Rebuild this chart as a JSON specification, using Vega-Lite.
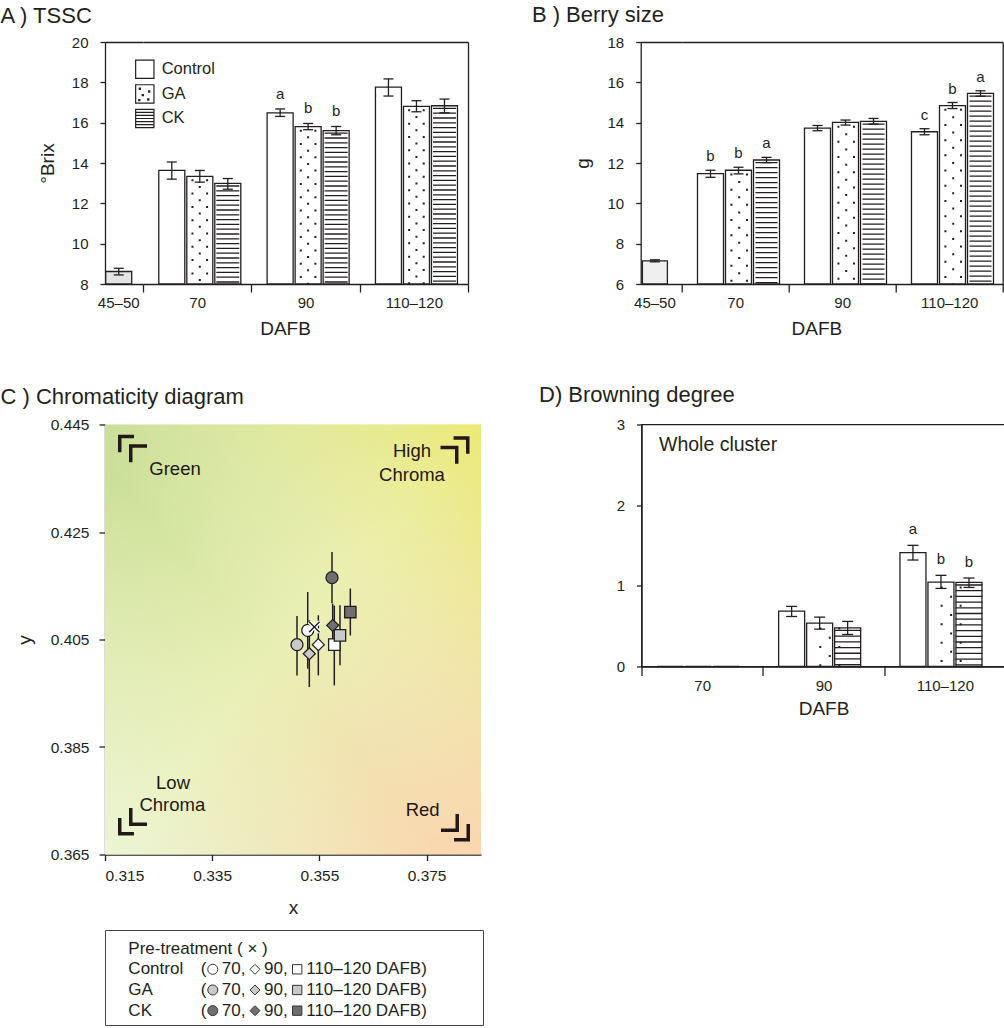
{
  "$schema": "https://vega.github.io/schema/vega-lite/v6.json",
  "background": "#ffffff",
  "padding": {"left": 0, "top": 3, "right": 0, "bottom": 0},
  "config": {
    "font": "Liberation Sans",
    "view": {"stroke": null},
    "axis": {
      "labelFont": "Liberation Sans", "labelFontSize": 15, "labelColor": "#231f20",
      "titleFont": "Liberation Sans", "titleFontSize": 19, "titleFontWeight": "normal", "titleColor": "#231f20",
      "domainColor": "#231f20", "domainWidth": 1.3, "tickColor": "#231f20", "tickWidth": 1.3,
      "grid": false, "labelOverlap": false
    },
    "title": {"font": "Liberation Sans", "fontSize": 22, "fontWeight": "normal", "color": "#231f20", "anchor": "start", "frame": "group"},
    "text": {"font": "Liberation Sans"}
  },
  "datasets": {
    "tssc": [
      {"period": "45–50", "treatment": "Pre-treatment", "mean": 8.62, "lo": 8.45, "hi": 8.78},
      {"period": "70", "treatment": "Control", "mean": 13.63, "lo": 13.2, "hi": 14.05},
      {"period": "70", "treatment": "GA", "mean": 13.34, "lo": 13.05, "hi": 13.63},
      {"period": "70", "treatment": "CK", "mean": 12.99, "lo": 12.7, "hi": 13.23},
      {"period": "90", "treatment": "Control", "mean": 16.49, "lo": 16.31, "hi": 16.68, "sig": "a"},
      {"period": "90", "treatment": "GA", "mean": 15.8, "lo": 15.65, "hi": 15.96, "sig": "b"},
      {"period": "90", "treatment": "CK", "mean": 15.61, "lo": 15.4, "hi": 15.81, "sig": "b"},
      {"period": "110–120", "treatment": "Control", "mean": 17.76, "lo": 17.32, "hi": 18.17},
      {"period": "110–120", "treatment": "GA", "mean": 16.81, "lo": 16.54, "hi": 17.09},
      {"period": "110–120", "treatment": "CK", "mean": 16.84, "lo": 16.49, "hi": 17.17}
    ],
    "berry": [
      {"period": "45–50", "treatment": "Pre-treatment", "mean": 7.15, "lo": 7.1, "hi": 7.2},
      {"period": "70", "treatment": "Control", "mean": 11.47, "lo": 11.29, "hi": 11.64, "sig": "b"},
      {"period": "70", "treatment": "GA", "mean": 11.64, "lo": 11.46, "hi": 11.79, "sig": "b"},
      {"period": "70", "treatment": "CK", "mean": 12.15, "lo": 12.02, "hi": 12.28, "sig": "a"},
      {"period": "90", "treatment": "Control", "mean": 13.73, "lo": 13.6, "hi": 13.86},
      {"period": "90", "treatment": "GA", "mean": 14.01, "lo": 13.88, "hi": 14.13},
      {"period": "90", "treatment": "CK", "mean": 14.06, "lo": 13.93, "hi": 14.21},
      {"period": "110–120", "treatment": "Control", "mean": 13.55, "lo": 13.4, "hi": 13.7, "sig": "c"},
      {"period": "110–120", "treatment": "GA", "mean": 14.85, "lo": 14.7, "hi": 15.0, "sig": "b"},
      {"period": "110–120", "treatment": "CK", "mean": 15.45, "lo": 15.31, "hi": 15.58, "sig": "a"}
    ],
    "brown": [
      {"period": "70", "treatment": "Control", "mean": 0, "lo": 0, "hi": 0},
      {"period": "70", "treatment": "GA", "mean": 0, "lo": 0, "hi": 0},
      {"period": "70", "treatment": "CK", "mean": 0, "lo": 0, "hi": 0},
      {"period": "90", "treatment": "Control", "mean": 0.687, "lo": 0.62, "hi": 0.745},
      {"period": "90", "treatment": "GA", "mean": 0.538, "lo": 0.463, "hi": 0.612},
      {"period": "90", "treatment": "CK", "mean": 0.48, "lo": 0.397, "hi": 0.559},
      {"period": "110–120", "treatment": "Control", "mean": 1.411, "lo": 1.32, "hi": 1.502, "sig": "a"},
      {"period": "110–120", "treatment": "GA", "mean": 1.047, "lo": 0.968, "hi": 1.13, "sig": "b"},
      {"period": "110–120", "treatment": "CK", "mean": 1.043, "lo": 0.98, "hi": 1.097, "sig": "b"}
    ],
    "chroma": [
      {"treatment": "Control", "period": "70", "x": 0.35282, "y": 0.4067, "ylo": 0.39957, "yhi": 0.41383},
      {"treatment": "Control", "period": "90", "x": 0.3548, "y": 0.40404, "ylo": 0.39833, "yhi": 0.4095},
      {"treatment": "Control", "period": "110–120", "x": 0.35778, "y": 0.40404, "ylo": 0.39646, "yhi": 0.4113},
      {"treatment": "GA", "period": "70", "x": 0.35082, "y": 0.40404, "ylo": 0.39832, "yhi": 0.40936},
      {"treatment": "GA", "period": "90", "x": 0.35312, "y": 0.40236, "ylo": 0.39615, "yhi": 0.40857},
      {"treatment": "GA", "period": "110–120", "x": 0.35884, "y": 0.40577, "ylo": 0.40019, "yhi": 0.41136},
      {"treatment": "CK", "period": "70", "x": 0.35735, "y": 0.41651, "ylo": 0.41174, "yhi": 0.42128},
      {"treatment": "CK", "period": "90", "x": 0.35748, "y": 0.40763, "ylo": 0.40359, "yhi": 0.41167},
      {"treatment": "CK", "period": "110–120", "x": 0.36077, "y": 0.41011, "ylo": 0.40575, "yhi": 0.41447},
      {"treatment": "Pre-treatment", "period": "45–50", "x": 0.35405, "y": 0.40732}
    ],
    "corners": [
      {"corner": "TL", "x": 0.32013, "y": 0.4405},
      {"corner": "TR", "x": 0.3803, "y": 0.44022},
      {"corner": "BL", "x": 0.32013, "y": 0.37114},
      {"corner": "BR", "x": 0.38039, "y": 0.37003}
    ],
    "notes": [
      {"note": "Green", "x": 0.32806, "y": 0.43681},
      {"note": "High", "x": 0.37228, "y": 0.44008},
      {"note": "Chroma", "x": 0.37228, "y": 0.43569},
      {"note": "Low", "x": 0.32769, "y": 0.37835},
      {"note": "Chroma", "x": 0.32756, "y": 0.37425},
      {"note": "Red", "x": 0.37427, "y": 0.37332}
    ],
    "keys": [
      {"treatment": "Control", "period": "70", "label": "70,"},
      {"treatment": "Control", "period": "90", "label": "90,"},
      {"treatment": "Control", "period": "110–120", "label": "110–120 DAFB)"},
      {"treatment": "GA", "period": "70", "label": "70,"},
      {"treatment": "GA", "period": "90", "label": "90,"},
      {"treatment": "GA", "period": "110–120", "label": "110–120 DAFB)"},
      {"treatment": "CK", "period": "70", "label": "70,"},
      {"treatment": "CK", "period": "90", "label": "90,"},
      {"treatment": "CK", "period": "110–120", "label": "110–120 DAFB)"}
    ],
    "keyrows": [
      {"row": "Pre-treatment", "name": "Pre-treatment ( × )"},
      {"row": "Control", "name": "Control"},
      {"row": "GA", "name": "GA"},
      {"row": "CK", "name": "CK"}
    ]
  },
  "spacing": 45.5,
  "vconcat": [
    {
      "spacing": 62.7,
      "hconcat": [
        {
          "spacing": 0,
          "bounds": "flush",
          "hconcat": [
            {
              "width": 38,
              "height": 242,
              "title": {"text": "A ) TSSC", "dx": -104.5, "offset": -9.7, "baseline": "alphabetic"},
              "data": {"name": "tssc"},
              "transform": [{"filter": "datum.period === '45–50'"}],
              "encoding": {
                "x": {"field": "period", "type": "nominal",
                  "scale": {"domain": ["45–50"], "paddingInner": 0, "paddingOuter": 0.2308, "align": 0.06},
                  "axis": {"title": null, "labelAngle": 0, "tickSize": 8, "tickColor": "transparent", "labelPadding": 3}}
              },
              "layer": [
                {"mark": {"type": "bar", "fill": "#e5e5e5", "stroke": "#231f20", "strokeWidth": 1.3},
                 "encoding": {
                   "y": {"field": "mean", "type": "quantitative", "title": "°Brix",
                     "scale": {"domain": [8, 20], "nice": false, "zero": false},
                     "axis": {"values": [8, 10, 12, 14, 16, 18, 20], "tickSize": 5, "labelPadding": 12, "titlePadding": 14,
                       "grid": true, "gridColor": "#231f20", "gridWidth": 1.3,
                       "gridOpacity": {"condition": {"test": "datum.value === 20", "value": 1}, "value": 0}}},
                   "y2": {"datum": 8}}},
                {"mark": {"type": "rule", "stroke": "#231f20", "strokeWidth": 1.3},
                 "encoding": {"y": {"field": "lo", "type": "quantitative", "title": "°Brix"}, "y2": {"field": "hi"}}},
                {"mark": {"type": "tick", "orient": "horizontal", "size": 10, "thickness": 1.3, "color": "#231f20", "opacity": 1},
                 "encoding": {"y": {"field": "lo", "type": "quantitative", "title": "°Brix"}}},
                {"mark": {"type": "tick", "orient": "horizontal", "size": 10, "thickness": 1.3, "color": "#231f20", "opacity": 1},
                 "encoding": {"y": {"field": "hi", "type": "quantitative", "title": "°Brix"}}}
              ]
            },
            {
              "width": 325,
              "height": 242,
              "data": {"name": "tssc"},
              "transform": [{"filter": "datum.period !== '45–50'"}],
              "encoding": {
                "x": {"field": "period", "type": "nominal",
                  "scale": {"domain": ["70", "90", "110–120"], "paddingInner": 0, "paddingOuter": 0},
                  "axis": {"title": "DAFB", "titleX": 142, "titleY": 35, "titleBaseline": "top", "labelAngle": 0, "tickSize": 8, "tickBand": "extent", "labelPadding": 3}}
              },
              "resolve": {"scale": {"y": "independent"}},
              "layer": [
                {
                  "layer": [
                    {"mark": {"type": "bar", "fill": "#ffffff", "stroke": "#231f20", "strokeWidth": 1.3},
                     "encoding": {
                       "xOffset": {"field": "treatment", "type": "nominal", "scale": {"domain": ["Control", "GA", "CK"], "paddingInner": 0.0714, "paddingOuter": 0.47, "align": 0.6}},
                       "y": {"field": "mean", "type": "quantitative", "title": null,
                         "scale": {"domain": [8, 20], "nice": false, "zero": false},
                         "axis": {"orient": "right", "labels": false, "ticks": false, "title": null, "values": [8, 10, 12, 14, 16, 18, 20],
                           "grid": true, "gridColor": "#231f20", "gridWidth": 1.3,
                           "gridOpacity": {"condition": {"test": "datum.value === 20", "value": 1}, "value": 0}}},
                       "y2": {"datum": 8}}},
                    {"transform": [{"filter": "datum.treatment === 'GA'"}],
                     "mark": {"type": "rule", "stroke": "#231f20", "strokeWidth": 2, "strokeDash": [2, 11.3], "strokeDashOffset": 10.3, "xOffset": -4.7},
                     "encoding": {"y": {"field": "mean", "type": "quantitative", "title": null}, "y2": {"datum": 8}}},
                    {"transform": [{"filter": "datum.treatment === 'GA'"}],
                     "mark": {"type": "rule", "stroke": "#231f20", "strokeWidth": 2, "strokeDash": [2, 11.3], "strokeDashOffset": 3.65, "xOffset": 2.6},
                     "encoding": {"y": {"field": "mean", "type": "quantitative", "title": null}, "y2": {"datum": 8}}},
                    {"transform": [{"filter": "datum.treatment === 'GA'"}],
                     "mark": {"type": "rule", "stroke": "#231f20", "strokeWidth": 2, "strokeDash": [2, 11.3], "strokeDashOffset": 10.3, "xOffset": 9.9},
                     "encoding": {"y": {"field": "mean", "type": "quantitative", "title": null}, "y2": {"datum": 8}}},
                    {"transform": [{"filter": "datum.treatment === 'CK'"}],
                     "mark": {"type": "rule", "stroke": "#231f20", "strokeWidth": 23, "strokeDash": [1.3, 3.5], "strokeDashOffset": 2.8},
                     "encoding": {
                       "xOffset": {"field": "treatment", "type": "nominal"},
                       "y": {"field": "mean", "type": "quantitative", "title": null}, "y2": {"datum": 8}}},
                    {"mark": {"type": "rule", "stroke": "#231f20", "strokeWidth": 1.3},
                     "encoding": {"xOffset": {"field": "treatment", "type": "nominal"}, "y": {"field": "lo", "type": "quantitative", "title": null}, "y2": {"field": "hi"}}},
                    {"mark": {"type": "tick", "orient": "horizontal", "size": 10, "thickness": 1.3, "color": "#231f20", "opacity": 1},
                     "encoding": {"xOffset": {"field": "treatment", "type": "nominal"}, "y": {"field": "lo", "type": "quantitative", "title": null}}},
                    {"mark": {"type": "tick", "orient": "horizontal", "size": 10, "thickness": 1.3, "color": "#231f20", "opacity": 1},
                     "encoding": {"xOffset": {"field": "treatment", "type": "nominal"}, "y": {"field": "hi", "type": "quantitative", "title": null}}},
                    {"transform": [{"filter": "datum.sig"}],
                     "mark": {"type": "text", "baseline": "alphabetic", "dy": -10, "fontSize": 15, "color": "#231f20"},
                     "encoding": {"xOffset": {"field": "treatment", "type": "nominal"}, "y": {"field": "hi", "type": "quantitative", "title": null}, "text": {"field": "sig"}}}
                  ]
                },
                {
                  "transform": [{"filter": "datum.period === '70'"}],
                  "encoding": {
                    "x": {"datum": "70", "type": "nominal", "bandPosition": 0},
                    "y": {"field": "treatment", "type": "nominal",
                      "scale": {"type": "point", "domain": ["s0", "Control", "GA", "CK", "s4", "s5", "s6", "s7", "s8", "s9"], "padding": 0.42, "align": 0.131},
                      "axis": null}
                  },
                  "layer": [
                    {"mark": {"type": "point", "filled": true, "fill": "#ffffff", "stroke": "#231f20", "strokeWidth": 1.2, "size": 335, "opacity": 1, "xOffset": 1.8},
                     "encoding": {
                       "shape": {"field": "treatment", "type": "nominal",
                         "scale": {"domain": ["Control", "GA", "CK"],
                           "range": ["M-1,-1H1V1H-1Z",
                             "M-1,-1H1V1H-1Z M-0.6,-0.62h0.12v0.12h-0.12Z M0.42,-0.32h0.12v0.12h-0.12Z M-0.28,0.08h0.12v0.12h-0.12Z M0.32,0.55h0.12v0.12h-0.12Z M-0.66,0.62h0.12v0.12h-0.12Z",
                             "M-1,-1H1V1H-1Z M-1,-0.667H1 M-1,-0.333H1 M-1,0H1 M-1,0.333H1 M-1,0.667H1"]},
                         "legend": null}}},
                    {"mark": {"type": "text", "align": "left", "baseline": "middle", "fontSize": 16.5, "dx": 18.7, "color": "#231f20"},
                     "encoding": {"text": {"field": "treatment"}}}
                  ]
                }
              ]
            }
          ]
        },
        {
          "spacing": 0,
          "bounds": "flush",
          "hconcat": [
            {
              "width": 41,
              "height": 242,
              "title": {"text": "B ) Berry size", "dx": -108.8, "offset": -8.7, "baseline": "alphabetic"},
              "data": {"name": "berry"},
              "transform": [{"filter": "datum.period === '45–50'"}],
              "encoding": {
                "x": {"field": "period", "type": "nominal",
                  "scale": {"domain": ["45–50"], "paddingInner": 0, "paddingOuter": 0.32, "align": 0.106},
                  "axis": {"title": null, "labelAngle": 0, "tickSize": 8, "tickColor": "transparent", "labelPadding": 3}}
              },
              "layer": [
                {"mark": {"type": "bar", "fill": "#efefef", "stroke": "#231f20", "strokeWidth": 1.3},
                 "encoding": {
                   "y": {"field": "mean", "type": "quantitative", "title": "g",
                     "scale": {"domain": [6, 18], "nice": false, "zero": false},
                     "axis": {"values": [6, 8, 10, 12, 14, 16, 18], "tickSize": 5, "labelPadding": 12, "titlePadding": 15,
                       "grid": true, "gridColor": "#231f20", "gridWidth": 1.3,
                       "gridOpacity": {"condition": {"test": "datum.value === 18", "value": 1}, "value": 0}}},
                   "y2": {"datum": 6}}},
                {"mark": {"type": "rule", "stroke": "#231f20", "strokeWidth": 1.3},
                 "encoding": {"y": {"field": "lo", "type": "quantitative", "title": "g"}, "y2": {"field": "hi"}}},
                {"mark": {"type": "tick", "orient": "horizontal", "size": 10, "thickness": 1.3, "color": "#231f20", "opacity": 1},
                 "encoding": {"y": {"field": "lo", "type": "quantitative", "title": "g"}}},
                {"mark": {"type": "tick", "orient": "horizontal", "size": 10, "thickness": 1.3, "color": "#231f20", "opacity": 1},
                 "encoding": {"y": {"field": "hi", "type": "quantitative", "title": "g"}}}
              ]
            },
            {
              "width": 321,
              "height": 242,
              "data": {"name": "berry"},
              "transform": [{"filter": "datum.period !== '45–50'"}],
              "encoding": {
                "x": {"field": "period", "type": "nominal",
                  "scale": {"domain": ["70", "90", "110–120"], "paddingInner": 0, "paddingOuter": 0},
                  "axis": {"title": "DAFB", "titleX": 134.7, "titleY": 35, "titleBaseline": "top", "labelAngle": 0, "tickSize": 8, "tickBand": "extent", "labelPadding": 3}}
              },
              "layer": [
                {"mark": {"type": "bar", "fill": "#ffffff", "stroke": "#231f20", "strokeWidth": 1.3},
                 "encoding": {
                   "xOffset": {"field": "treatment", "type": "nominal", "scale": {"domain": ["Control", "GA", "CK"], "paddingInner": 0.0975, "paddingOuter": 0.48, "align": 0.65}},
                   "y": {"field": "mean", "type": "quantitative", "title": null,
                     "scale": {"domain": [6, 18], "nice": false, "zero": false},
                     "axis": {"orient": "right", "labels": false, "ticks": false, "title": null, "values": [6, 8, 10, 12, 14, 16, 18],
                       "grid": true, "gridColor": "#231f20", "gridWidth": 1.3,
                       "gridOpacity": {"condition": {"test": "datum.value === 18", "value": 1}, "value": 0}}},
                   "y2": {"datum": 6}}},
                {"transform": [{"filter": "datum.treatment === 'GA'"}],
                 "mark": {"type": "rule", "stroke": "#231f20", "strokeWidth": 2, "strokeDash": [2, 13.2], "strokeDashOffset": 12, "xOffset": -3.8},
                 "encoding": {"y": {"field": "mean", "type": "quantitative", "title": null}, "y2": {"datum": 6}}},
                {"transform": [{"filter": "datum.treatment === 'GA'"}],
                 "mark": {"type": "rule", "stroke": "#231f20", "strokeWidth": 2, "strokeDash": [2, 13.2], "strokeDashOffset": 4.4, "xOffset": 4},
                 "encoding": {"y": {"field": "mean", "type": "quantitative", "title": null}, "y2": {"datum": 6}}},
                {"transform": [{"filter": "datum.treatment === 'GA'"}],
                 "mark": {"type": "rule", "stroke": "#231f20", "strokeWidth": 2, "strokeDash": [2, 13.2], "strokeDashOffset": 12, "xOffset": 11.8},
                 "encoding": {"y": {"field": "mean", "type": "quantitative", "title": null}, "y2": {"datum": 6}}},
                {"transform": [{"filter": "datum.treatment === 'CK'"}],
                 "mark": {"type": "rule", "stroke": "#231f20", "strokeWidth": 22, "strokeDash": [1.3, 3.7], "strokeDashOffset": 3},
                 "encoding": {
                   "xOffset": {"field": "treatment", "type": "nominal"},
                   "y": {"field": "mean", "type": "quantitative", "title": null}, "y2": {"datum": 6}}},
                {"mark": {"type": "rule", "stroke": "#231f20", "strokeWidth": 1.3},
                 "encoding": {"xOffset": {"field": "treatment", "type": "nominal"}, "y": {"field": "lo", "type": "quantitative", "title": null}, "y2": {"field": "hi"}}},
                {"mark": {"type": "tick", "orient": "horizontal", "size": 10, "thickness": 1.3, "color": "#231f20", "opacity": 1},
                 "encoding": {"xOffset": {"field": "treatment", "type": "nominal"}, "y": {"field": "lo", "type": "quantitative", "title": null}}},
                {"mark": {"type": "tick", "orient": "horizontal", "size": 10, "thickness": 1.3, "color": "#231f20", "opacity": 1},
                 "encoding": {"xOffset": {"field": "treatment", "type": "nominal"}, "y": {"field": "hi", "type": "quantitative", "title": null}}},
                {"transform": [{"filter": "datum.sig"}],
                 "mark": {"type": "text", "baseline": "alphabetic", "dy": -9, "fontSize": 15, "color": "#231f20"},
                 "encoding": {"xOffset": {"field": "treatment", "type": "nominal"}, "y": {"field": "hi", "type": "quantitative", "title": null}, "text": {"field": "sig"}}}
              ]
            }
          ]
        }
      ]
    },
    {
      "spacing": 53.5,
      "hconcat": [
        {
          "spacing": 11.5,
          "vconcat": [
            {
              "width": 376,
              "height": 430,
              "title": {"text": "C ) Chromaticity diagram", "dx": -104.5, "offset": -8, "baseline": "alphabetic"},
              "layer": [
                {"data": {"values": [{"k": 1}]},
                 "mark": {"type": "rect", "fill": {"gradient": "linear", "x1": 0, "y1": 0, "x2": 1, "y2": 1,
                   "stops": [{"offset": 0, "color": "#c6dd94"}, {"offset": 0.5, "color": "#e9efb4"}, {"offset": 1, "color": "#fcd3ad"}]}},
                 "encoding": {
                   "x": {"datum": 0.315, "type": "quantitative", "title": "x",
                     "scale": {"domain": [0.315, 0.38515], "nice": false, "zero": false},
                     "axis": {"values": [0.315, 0.335, 0.355, 0.375], "format": ".3f", "tickSize": 6, "labelPadding": 8, "titlePadding": 14, "labelFontSize": 15.5}},
                   "x2": {"datum": 0.38515},
                   "y": {"datum": 0.365, "type": "quantitative", "title": "y",
                     "scale": {"domain": [0.365, 0.445], "nice": false, "zero": false},
                     "axis": {"values": [0.365, 0.385, 0.405, 0.425, 0.445], "format": ".3f", "tickSize": 6, "labelPadding": 10, "titlePadding": 16, "labelFontSize": 15.5}},
                   "y2": {"datum": 0.445}}},
                {"data": {"values": [{"k": 1}]},
                 "mark": {"type": "rect", "fill": {"gradient": "linear", "x1": 0, "y1": 1, "x2": 1, "y2": 0,
                   "stops": [{"offset": 0, "color": "rgba(236,246,224,0.75)"}, {"offset": 0.45, "color": "rgba(240,244,200,0)"}, {"offset": 1, "color": "rgba(236,231,100,0.8)"}]}},
                 "encoding": {
                   "x": {"datum": 0.315, "type": "quantitative", "title": "x"},
                   "x2": {"datum": 0.38515},
                   "y": {"datum": 0.365, "type": "quantitative", "title": "y"},
                   "y2": {"datum": 0.445}}},
                {"data": {"name": "chroma"},
                 "transform": [{"filter": "datum.treatment !== 'Pre-treatment'"}],
                 "mark": {"type": "rule", "stroke": "#231f20", "strokeWidth": 1.5},
                 "encoding": {
                   "x": {"field": "x", "type": "quantitative", "title": "x"},
                   "y": {"field": "ylo", "type": "quantitative", "title": "y"},
                   "y2": {"field": "yhi"}}},
                {"data": {"name": "chroma"},
                 "transform": [{"filter": "datum.period === '70'"}],
                 "mark": {"type": "point", "shape": "circle", "filled": true, "size": 144, "stroke": "#231f20", "strokeWidth": 1.3, "opacity": 1},
                 "encoding": {
                   "x": {"field": "x", "type": "quantitative", "title": "x"},
                   "y": {"field": "y", "type": "quantitative", "title": "y"},
                   "fill": {"field": "treatment", "type": "nominal", "scale": {"domain": ["Control", "GA", "CK"], "range": ["#ffffff", "#c9c9c9", "#6f6f6f"]}, "legend": null}}},
                {"data": {"name": "chroma"},
                 "transform": [{"filter": "datum.period === '90'"}],
                 "mark": {"type": "point", "shape": "diamond", "filled": true, "size": 144, "stroke": "#231f20", "strokeWidth": 1.3, "opacity": 1},
                 "encoding": {
                   "x": {"field": "x", "type": "quantitative", "title": "x"},
                   "y": {"field": "y", "type": "quantitative", "title": "y"},
                   "fill": {"field": "treatment", "type": "nominal", "legend": null}}},
                {"data": {"name": "chroma"},
                 "transform": [{"filter": "datum.period === '110–120'"}],
                 "mark": {"type": "point", "shape": "square", "filled": true, "size": 130, "stroke": "#231f20", "strokeWidth": 1.3, "opacity": 1},
                 "encoding": {
                   "x": {"field": "x", "type": "quantitative", "title": "x"},
                   "y": {"field": "y", "type": "quantitative", "title": "y"},
                   "fill": {"field": "treatment", "type": "nominal", "legend": null}}},
                {"data": {"name": "chroma"},
                 "transform": [{"filter": "datum.treatment === 'Pre-treatment'"}],
                 "mark": {"type": "point", "shape": "M-1,-1L1,1M-1,1L1,-1", "filled": false, "size": 110, "stroke": "#ffffff", "strokeWidth": 4, "opacity": 1},
                 "encoding": {"x": {"field": "x", "type": "quantitative", "title": "x"}, "y": {"field": "y", "type": "quantitative", "title": "y"}}},
                {"data": {"name": "chroma"},
                 "transform": [{"filter": "datum.treatment === 'Pre-treatment'"}],
                 "mark": {"type": "point", "shape": "M-1,-1L1,1M-1,1L1,-1", "filled": false, "size": 110, "stroke": "#231f20", "strokeWidth": 1.4, "opacity": 1},
                 "encoding": {"x": {"field": "x", "type": "quantitative", "title": "x"}, "y": {"field": "y", "type": "quantitative", "title": "y"}}},
                {"data": {"name": "corners"},
                 "transform": [{"filter": "datum.corner === 'TL'"}],
                 "mark": {"type": "point", "shape": "M-1,-0.96H0.1V-0.72H-0.76V0.24H-1Z M-0.24,-0.31H1V-0.07H0V0.93H-0.24Z", "filled": true, "color": "#231815", "size": 841, "strokeWidth": 0, "opacity": 1},
                 "encoding": {"x": {"field": "x", "type": "quantitative", "title": "x"}, "y": {"field": "y", "type": "quantitative", "title": "y"}}},
                {"data": {"name": "corners"},
                 "transform": [{"filter": "datum.corner === 'TR'"}],
                 "mark": {"type": "point", "shape": "M1,-0.96H-0.1V-0.72H0.76V0.24H1Z M0.24,-0.31H-1V-0.07H0V0.93H0.24Z", "filled": true, "color": "#231815", "size": 841, "strokeWidth": 0, "opacity": 1},
                 "encoding": {"x": {"field": "x", "type": "quantitative", "title": "x"}, "y": {"field": "y", "type": "quantitative", "title": "y"}}},
                {"data": {"name": "corners"},
                 "transform": [{"filter": "datum.corner === 'BL'"}],
                 "mark": {"type": "point", "shape": "M-1,0.96H0.1V0.72H-0.76V-0.24H-1Z M-0.24,0.31H1V0.07H0V-0.93H-0.24Z", "filled": true, "color": "#231815", "size": 841, "strokeWidth": 0, "opacity": 1},
                 "encoding": {"x": {"field": "x", "type": "quantitative", "title": "x"}, "y": {"field": "y", "type": "quantitative", "title": "y"}}},
                {"data": {"name": "corners"},
                 "transform": [{"filter": "datum.corner === 'BR'"}],
                 "mark": {"type": "point", "shape": "M1,0.96H-0.1V0.72H0.76V-0.24H1Z M0.24,0.31H-1V0.07H0V-0.93H0.24Z", "filled": true, "color": "#231815", "size": 841, "strokeWidth": 0, "opacity": 1},
                 "encoding": {"x": {"field": "x", "type": "quantitative", "title": "x"}, "y": {"field": "y", "type": "quantitative", "title": "y"}}},
                {"data": {"name": "notes"},
                 "mark": {"type": "text", "align": "center", "baseline": "middle", "fontSize": 18.5, "color": "#231815"},
                 "encoding": {"x": {"field": "x", "type": "quantitative", "title": "x"}, "y": {"field": "y", "type": "quantitative", "title": "y"}, "text": {"field": "note"}}}
              ]
            },
            {
              "width": 378,
              "height": 95,
              "view": {"stroke": "#444444", "strokeWidth": 1},
              "layer": [
                {"data": {"name": "keyrows"},
                 "mark": {"type": "text", "align": "left", "baseline": "middle", "fontSize": 17, "color": "#231f20"},
                 "encoding": {
                   "x": {"datum": "c0", "type": "nominal", "scale": {"type": "point", "domain": ["c0", "c1", "70", "90", "110–120", "c5", "c6", "c7"], "padding": 0.978, "align": 0.283}, "axis": null},
                   "y": {"field": "row", "type": "nominal", "scale": {"type": "point", "domain": ["Pre-treatment", "Control", "GA", "CK"], "padding": 0.798, "align": 0.565}, "axis": null},
                   "text": {"field": "name"}}},
                {"data": {"name": "keyrows"},
                 "transform": [{"filter": "datum.row !== 'Pre-treatment'"}],
                 "mark": {"type": "text", "align": "left", "baseline": "middle", "dx": -12, "fontSize": 17, "color": "#231f20", "text": "("},
                 "encoding": {"x": {"datum": "70", "type": "nominal"}, "y": {"field": "row", "type": "nominal"}}},
                {"data": {"name": "keys"},
                 "transform": [{"filter": "datum.period === '70'"}],
                 "mark": {"type": "point", "shape": "circle", "filled": true, "size": 100, "stroke": "#333333", "strokeWidth": 1, "opacity": 1},
                 "encoding": {"x": {"field": "period", "type": "nominal"}, "y": {"field": "treatment", "type": "nominal"},
                   "fill": {"field": "treatment", "type": "nominal", "scale": {"domain": ["Control", "GA", "CK"], "range": ["#ffffff", "#c9c9c9", "#6f6f6f"]}, "legend": null}}},
                {"data": {"name": "keys"},
                 "transform": [{"filter": "datum.period === '90'"}],
                 "mark": {"type": "point", "shape": "diamond", "filled": true, "size": 100, "stroke": "#333333", "strokeWidth": 1, "opacity": 1},
                 "encoding": {"x": {"field": "period", "type": "nominal"}, "y": {"field": "treatment", "type": "nominal"},
                   "fill": {"field": "treatment", "type": "nominal", "legend": null}}},
                {"data": {"name": "keys"},
                 "transform": [{"filter": "datum.period === '110–120'"}],
                 "mark": {"type": "point", "shape": "square", "filled": true, "size": 87, "stroke": "#333333", "strokeWidth": 1, "opacity": 1},
                 "encoding": {"x": {"field": "period", "type": "nominal"}, "y": {"field": "treatment", "type": "nominal"},
                   "fill": {"field": "treatment", "type": "nominal", "legend": null}}},
                {"data": {"name": "keys"},
                 "mark": {"type": "text", "align": "left", "baseline": "middle", "dx": 9, "fontSize": 17, "color": "#231f20"},
                 "encoding": {"x": {"field": "period", "type": "nominal"}, "y": {"field": "treatment", "type": "nominal"}, "text": {"field": "label"}}}
              ]
            }
          ]
        },
        {
          "width": 364,
          "height": 242,
          "view": {"stroke": "#231f20", "strokeWidth": 1.3},
          "title": {"text": "D) Browning degree", "dx": -102.5, "offset": -6.7, "baseline": "alphabetic"},
          "data": {"name": "brown"},
          "encoding": {
            "x": {"field": "period", "type": "nominal",
              "scale": {"domain": ["70", "90", "110–120"], "paddingInner": 0, "paddingOuter": 0},
              "axis": {"title": "DAFB", "labelAngle": 0, "tickSize": 9, "tickBand": "extent", "labelPadding": 3, "titlePadding": 6}}
          },
          "layer": [
            {"mark": {"type": "bar", "fill": "#ffffff", "stroke": "#231f20", "strokeWidth": 1.3},
             "encoding": {
               "xOffset": {"field": "treatment", "type": "nominal", "scale": {"domain": ["Control", "GA", "CK"], "paddingInner": 0.0909, "paddingOuter": 0.384, "align": 0.75}},
               "y": {"field": "mean", "type": "quantitative", "title": null,
                 "scale": {"domain": [0, 3], "nice": false, "zero": false},
                 "axis": {"values": [0, 1, 2, 3], "format": "d", "tickSize": 5, "labelPadding": 12, "title": null}},
               "y2": {"datum": 0}}},
            {"transform": [{"filter": "datum.treatment === 'GA' && datum.mean > 0"}],
             "mark": {"type": "rule", "stroke": "#231f20", "strokeWidth": 2, "strokeDash": [2, 16.4], "strokeDashOffset": 14, "xOffset": -3.2},
             "encoding": {"y": {"field": "mean", "type": "quantitative", "title": null}, "y2": {"datum": 0}}},
            {"transform": [{"filter": "datum.treatment === 'GA' && datum.mean > 0"}],
             "mark": {"type": "rule", "stroke": "#231f20", "strokeWidth": 2, "strokeDash": [2, 16.4], "strokeDashOffset": 4.8, "xOffset": 6.3},
             "encoding": {"y": {"field": "mean", "type": "quantitative", "title": null}, "y2": {"datum": 0}}},
            {"transform": [{"filter": "datum.treatment === 'GA' && datum.mean > 0"}],
             "mark": {"type": "rule", "stroke": "#231f20", "strokeWidth": 2, "strokeDash": [2, 16.4], "strokeDashOffset": 14, "xOffset": 15.8},
             "encoding": {"y": {"field": "mean", "type": "quantitative", "title": null}, "y2": {"datum": 0}}},
            {"transform": [{"filter": "datum.treatment === 'CK' && datum.mean > 0"}],
             "mark": {"type": "rule", "stroke": "#231f20", "strokeWidth": 27, "strokeDash": [1.3, 4.4], "strokeDashOffset": 3.7},
             "encoding": {
               "xOffset": {"field": "treatment", "type": "nominal"},
               "y": {"field": "mean", "type": "quantitative", "title": null}, "y2": {"datum": 0}}},
            {"transform": [{"filter": "datum.hi > 0"}],
             "mark": {"type": "rule", "stroke": "#231f20", "strokeWidth": 1.3},
             "encoding": {"xOffset": {"field": "treatment", "type": "nominal"}, "y": {"field": "lo", "type": "quantitative", "title": null}, "y2": {"field": "hi"}}},
            {"transform": [{"filter": "datum.hi > 0"}],
             "mark": {"type": "tick", "orient": "horizontal", "size": 11, "thickness": 1.3, "color": "#231f20", "opacity": 1},
             "encoding": {"xOffset": {"field": "treatment", "type": "nominal"}, "y": {"field": "lo", "type": "quantitative", "title": null}}},
            {"transform": [{"filter": "datum.hi > 0"}],
             "mark": {"type": "tick", "orient": "horizontal", "size": 11, "thickness": 1.3, "color": "#231f20", "opacity": 1},
             "encoding": {"xOffset": {"field": "treatment", "type": "nominal"}, "y": {"field": "hi", "type": "quantitative", "title": null}}},
            {"transform": [{"filter": "datum.sig"}],
             "mark": {"type": "text", "baseline": "alphabetic", "dy": -11, "fontSize": 15, "color": "#231f20"},
             "encoding": {"xOffset": {"field": "treatment", "type": "nominal"}, "y": {"field": "hi", "type": "quantitative", "title": null}, "text": {"field": "sig"}}},
            {"data": {"values": [{"note": "Whole cluster"}]},
             "mark": {"type": "text", "align": "left", "baseline": "middle", "fontSize": 19.5, "dx": 17.5, "color": "#231f20"},
             "encoding": {
               "x": {"datum": "70", "type": "nominal", "bandPosition": 0},
               "y": {"datum": 2.747, "type": "quantitative", "title": null},
               "text": {"field": "note"}}}
          ]
        }
      ]
    }
  ]
}
